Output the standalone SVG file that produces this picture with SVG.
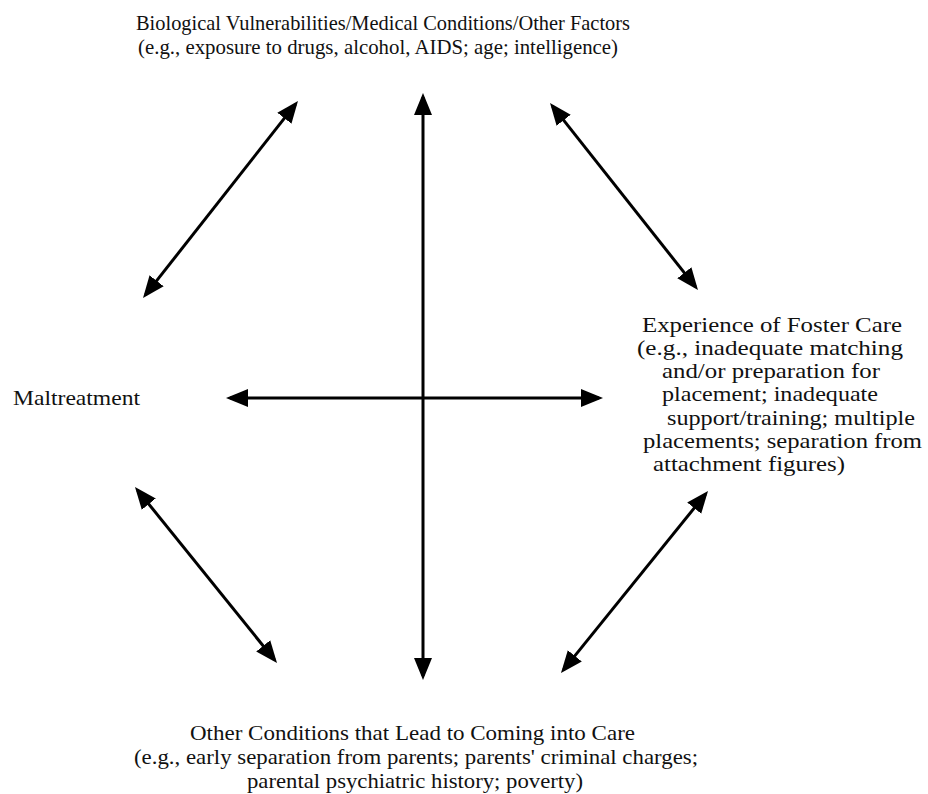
<svg xmlns="http://www.w3.org/2000/svg" width="928" height="794" viewBox="0 0 928 794">
<style>
  text { font-family: "Liberation Serif", "Times New Roman", Times, serif; font-size: 21px; fill: #111; }
  .conn line { stroke: #000; stroke-width: 3; marker-start: url(#ah); marker-end: url(#ah); }
</style>
<defs>
  <marker id="ah" markerUnits="userSpaceOnUse" markerWidth="26" markerHeight="22" viewBox="0 -11 26 22" refX="18" refY="0" orient="auto-start-reverse">
    <path d="M0,-9 L22,0 L0,9 Z" fill="#000"/>
  </marker>
</defs>
<rect width="928" height="794" fill="#fff"/>
<g id="node-biological">
  <text x="136" y="30" textLength="494" lengthAdjust="spacingAndGlyphs">Biological Vulnerabilities/Medical Conditions/Other Factors</text>
  <text x="138" y="54" textLength="480" lengthAdjust="spacingAndGlyphs">(e.g., exposure to drugs, alcohol, AIDS; age; intelligence)</text>
</g>
<g id="node-maltreatment">
  <text x="13" y="405" textLength="127" lengthAdjust="spacingAndGlyphs">Maltreatment</text>
</g>
<g id="node-foster">
  <text x="642" y="332" textLength="260" lengthAdjust="spacingAndGlyphs">Experience of Foster Care</text>
  <text x="637" y="355" textLength="266" lengthAdjust="spacingAndGlyphs">(e.g., inadequate matching</text>
  <text x="662" y="378" textLength="218" lengthAdjust="spacingAndGlyphs">and/or preparation for</text>
  <text x="662" y="401" textLength="216" lengthAdjust="spacingAndGlyphs">placement; inadequate</text>
  <text x="667" y="425" textLength="248" lengthAdjust="spacingAndGlyphs">support/training; multiple</text>
  <text x="643" y="448" textLength="279" lengthAdjust="spacingAndGlyphs">placements; separation from</text>
  <text x="653" y="471" textLength="192" lengthAdjust="spacingAndGlyphs">attachment figures)</text>
</g>
<g id="node-other">
  <text x="190" y="740" textLength="445" lengthAdjust="spacingAndGlyphs">Other Conditions that Lead to Coming into Care</text>
  <text x="134" y="764" textLength="564" lengthAdjust="spacingAndGlyphs">(e.g., early separation from parents; parents' criminal charges;</text>
  <text x="247" y="788" textLength="336" lengthAdjust="spacingAndGlyphs">parental psychiatric history; poverty)</text>
</g>
<g id="connectors" class="conn">
  <line x1="145.5" y1="294.9" x2="295.5" y2="104.1"/>
  <line x1="552.5" y1="106.1" x2="695.5" y2="286.9"/>
  <line x1="423" y1="97" x2="423" y2="676"/>
  <line x1="230" y1="398" x2="599" y2="398"/>
  <line x1="137.5" y1="490.1" x2="274.5" y2="659.9"/>
  <line x1="705.5" y1="494.1" x2="563.5" y2="669.9"/>
</g>
</svg>
